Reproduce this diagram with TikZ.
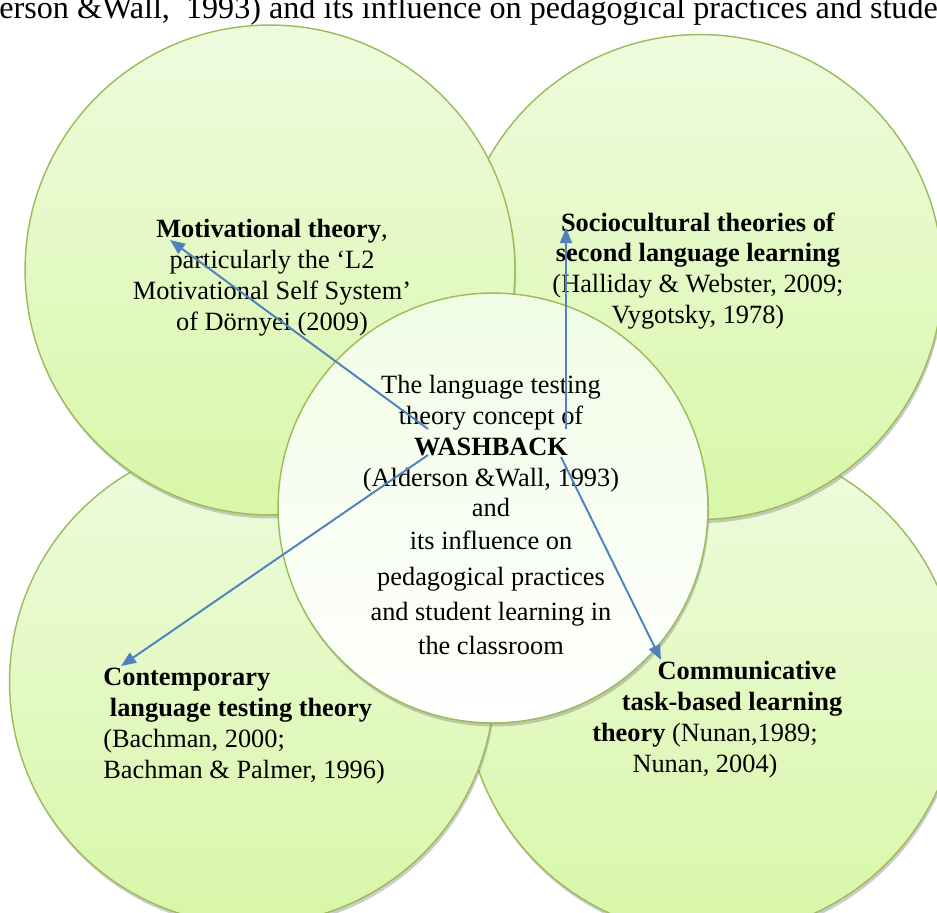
\documentclass[tikz,border=0pt]{standalone}
\usepackage{fontspec}
\setmainfont{Liberation Serif}
\usepackage{xcolor}
\usetikzlibrary{arrows.meta,positioning,shadows}
\definecolor{bordaVerde}{RGB}{155,187,89}
\definecolor{verdeClaro}{RGB}{238,251,222}
\definecolor{verdeMedio}{RGB}{216,247,168}
\definecolor{centroClaro}{RGB}{240,252,228}
\definecolor{azulSeta}{RGB}{79,129,189}
\tikzset{
    circulo/.style={
        circle,
        draw=bordaVerde,
        line width=0.8pt,
        inner sep=0pt,
        top color=verdeClaro,
        bottom color=verdeMedio,
        drop shadow={opacity=0.4, shadow xshift=0.7pt, shadow yshift=-2pt}
    },
    circuloCentral/.style={circulo, top color=centroClaro, bottom color=white},
    texto/.style={align=center, inner sep=0pt, font=\fontsize{15}{17.6}\selectfont},
    seta/.style={-{Triangle[length=0.3cm, width=0.24cm]}, line width=1.1pt, draw=azulSeta}
}

\begin{document}
\begin{tikzpicture}[x=0.02cm, y=-0.02cm]
    \useasboundingbox (0,0) rectangle (937,913);
    \clip (0,0) rectangle (937,913);

    % linha de texto cortada no topo
    \node[texto, anchor=base west, font=\fontsize{18.3}{20}\selectfont] (fragmento) at (-1,18)
        {erson \&Wall,\ \ 1993) and its influence on pedagogical practices and studen};

    % circulos (de tras para a frente)
    \node[circulo, minimum size=9.9cm] (comunicativa) at (712,688) {};
    \node[circulo, minimum size=9.7cm] (contemporanea) at (252,682) {};
    \node[circulo, minimum size=9.7cm] (sociocultural) at (700,277) {};
    \node[circulo, minimum size=9.8cm] (motivacional) at (270,270) {};
    \node[circuloCentral, minimum size=8.6cm] (washback) at (493,508) {};

    % textos
    \node[texto] (motivTxt) at (272,278) {\textbf{Motivational theory},\\ particularly the ‘L2\\ Motivational Self System’\\ of Dörnyei (2009)};
    \node[texto] (socioTxt) at (698,271) {\textbf{Sociocultural theories of}\\ \textbf{second language learning}\\ (Halliday \& Webster, 2009;\\ Vygotsky, 1978)};
    \node[texto] (washTxt) at (491,515) {The language testing\\ theory concept of\\ \textbf{WASHBACK}\\ (Alderson \&Wall, 1993)\\ and\\[1pt] its influence on\\[3pt] pedagogical practices\\[2pt] and student learning in\\[2pt] the classroom};
    \node[texto, align=left, anchor=west] (contempTxt) at (103,726) {\textbf{Contemporary}\\ \hspace*{0.25em}\textbf{language testing theory}\\ (Bachman, 2000;\\ Bachman \& Palmer, 1996)};
    \node[texto] (comunTxt) at (705,720) {\hspace*{1.68cm}\textbf{Communicative}\\ \hspace*{1.08cm}\textbf{task-based learning}\\ \textbf{theory} (Nunan,1989;\\ Nunan, 2004)};

    % pontas das setas
    \coordinate (motivOrigem) at (428,429);
    \coordinate (motivPonta) at (170,240);
    \coordinate (socioOrigem) at (566,429);
    \coordinate (socioPonta) at (566,228);
    \coordinate (contempOrigem) at (428,455);
    \coordinate (contempPonta) at (121,666);
    \coordinate (comunOrigem) at (561,457);
    \coordinate (comunPonta) at (661,660);

    \draw[seta] (motivOrigem) -- (motivPonta);
    \draw[seta] (socioOrigem) -- (socioPonta);
    \draw[seta] (contempOrigem) -- (contempPonta);
    \draw[seta] (comunOrigem) -- (comunPonta);
\end{tikzpicture}
\end{document}
